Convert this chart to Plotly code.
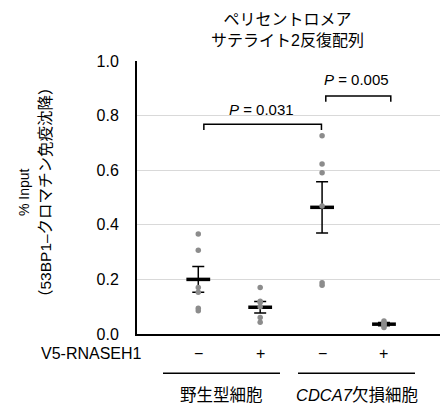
import plotly.graph_objects as go

# ---- data ----
group_x = [1, 2, 3, 4]
rnaseh1_labels = ["−", "+", "−", "+"]
cell_labels = ["野生型細胞", "<i>CDCA7</i>欠損細胞"]
cell_label_x = [1.375, 3.556]

points_g1 = [0.366, 0.307, 0.170, 0.153, 0.094, 0.085]
points_g2 = [0.170, 0.120, 0.115, 0.100, 0.060, 0.043]
points_g3 = [0.726, 0.623, 0.591, 0.469, 0.188, 0.179]
points_g4 = [0.048, 0.042, 0.036, 0.030, 0.024]
all_points = [points_g1, points_g2, points_g3, points_g4]

means = [0.200, 0.098, 0.464, 0.036]
sems = [0.047, 0.021, 0.094, 0.006]

bracket_x0 = [1.09, 3.06]
bracket_x1 = [2.99, 4.11]
bracket_y = [0.768, 0.872]
bracket_drop = 0.021
p_labels = ["<i>P</i> = 0.031", "<i>P</i> = 0.005"]
p_label_x = [2.02, 3.55]
p_label_y = [0.823, 0.934]

y_ticks = [0.0, 0.2, 0.4, 0.6, 0.8, 1.0]
y_ticktext = ["0.0", "0.2", "0.4", "0.6", "0.8", "1.0"]

FONT = "Liberation Sans, Arial, Noto Sans CJK JP, sans-serif"

fig = go.Figure()

# mean + SEM
fig.add_trace(go.Scatter(
    x=group_x, y=means, mode="markers",
    marker=dict(symbol="line-ew", size=17, color="black",
                line=dict(width=3.5, color="black")),
    error_y=dict(type="data", array=sems, visible=True,
                 thickness=1.5, width=6, color="black"),
    showlegend=False, hoverinfo="skip"))

# individual points
px, py = [], []
for gx, pts in zip(group_x, all_points):
    px += [gx] * len(pts)
    py += pts
fig.add_trace(go.Scatter(
    x=px, y=py, mode="markers",
    marker=dict(symbol="circle", size=5.5, color="#8c8c8c"),
    showlegend=False, hoverinfo="skip"))

# brackets
for x0, x1, yb in zip(bracket_x0, bracket_x1, bracket_y):
    fig.add_shape(type="path",
                  path=f"M {x0},{yb - bracket_drop} L {x0},{yb} L {x1},{yb} L {x1},{yb - bracket_drop}",
                  xref="x", yref="y", line=dict(color="black", width=1.5))
for t, x, y in zip(p_labels, p_label_x, p_label_y):
    fig.add_annotation(text=t, x=x, y=y, xref="x", yref="y", showarrow=False,
                       font=dict(size=15, color="black", family=FONT))

# bottom labels
fig.add_annotation(text="V5-RNASEH1", x=0.023, y=-0.0696, xref="paper", yref="paper",
                   xanchor="right", yanchor="middle", showarrow=False,
                   font=dict(size=16, color="black", family=FONT))
for gx, t in zip(group_x, rnaseh1_labels):
    fig.add_annotation(text=t, x=gx, y=-0.0696, xref="x", yref="paper",
                       yanchor="middle", showarrow=False,
                       font=dict(size=16, color="black", family=FONT))
for cx, t in zip(cell_label_x, cell_labels):
    fig.add_shape(type="line", x0=cx - 0.945, x1=cx + 0.945, y0=-0.144, y1=-0.144,
                  xref="x", yref="paper", line=dict(color="black", width=1.5))
    fig.add_annotation(text=t, x=cx, y=-0.225, xref="x", yref="paper",
                       yanchor="middle", showarrow=False,
                       font=dict(size=16.5, color="black", family=FONT))

# title
fig.add_annotation(text="ペリセントロメア<br>サテライト2反復配列", x=0.498, y=1.112,
                   xref="paper", yref="paper", yanchor="middle", showarrow=False,
                   font=dict(size=16, color="black", family=FONT))

# y axis title (two lines)
fig.add_annotation(text="% Input", x=-137 / 303 + 24 / 303, y=0.52, xref="paper", yref="paper",
                   textangle=-90, showarrow=False, xanchor="center", yanchor="middle",
                   font=dict(size=14, color="black", family=FONT))
fig.add_annotation(text="（53BP1–クロマチン免疫沈降）", x=-137 / 303 + 45 / 303, y=0.52,
                   xref="paper", yref="paper",
                   textangle=-90, showarrow=False, xanchor="center", yanchor="middle",
                   font=dict(size=15.5, color="black", family=FONT))

fig.update_layout(
    width=440, height=405,
    margin=dict(l=137, r=0, t=61, b=71),
    plot_bgcolor="white", paper_bgcolor="white",
    font=dict(family=FONT, color="black"),
    xaxis=dict(range=[0.01, 4.905], showgrid=False, zeroline=False,
               showticklabels=False, ticks="", showline=True,
               linecolor="black", linewidth=2),
    yaxis=dict(range=[0, 1], tickvals=y_ticks, ticktext=y_ticktext,
               showgrid=True, gridcolor="#d9d9d9", gridwidth=1.3,
               zeroline=False, ticks="", showline=True, linecolor="black",
               linewidth=2, tickfont=dict(size=16, color="black", family=FONT),
               ticklabelstandoff=13),
)

fig.write_html("out.html", config={"displayModeBar": False},
               post_script="document.body.style.margin='0px';")
